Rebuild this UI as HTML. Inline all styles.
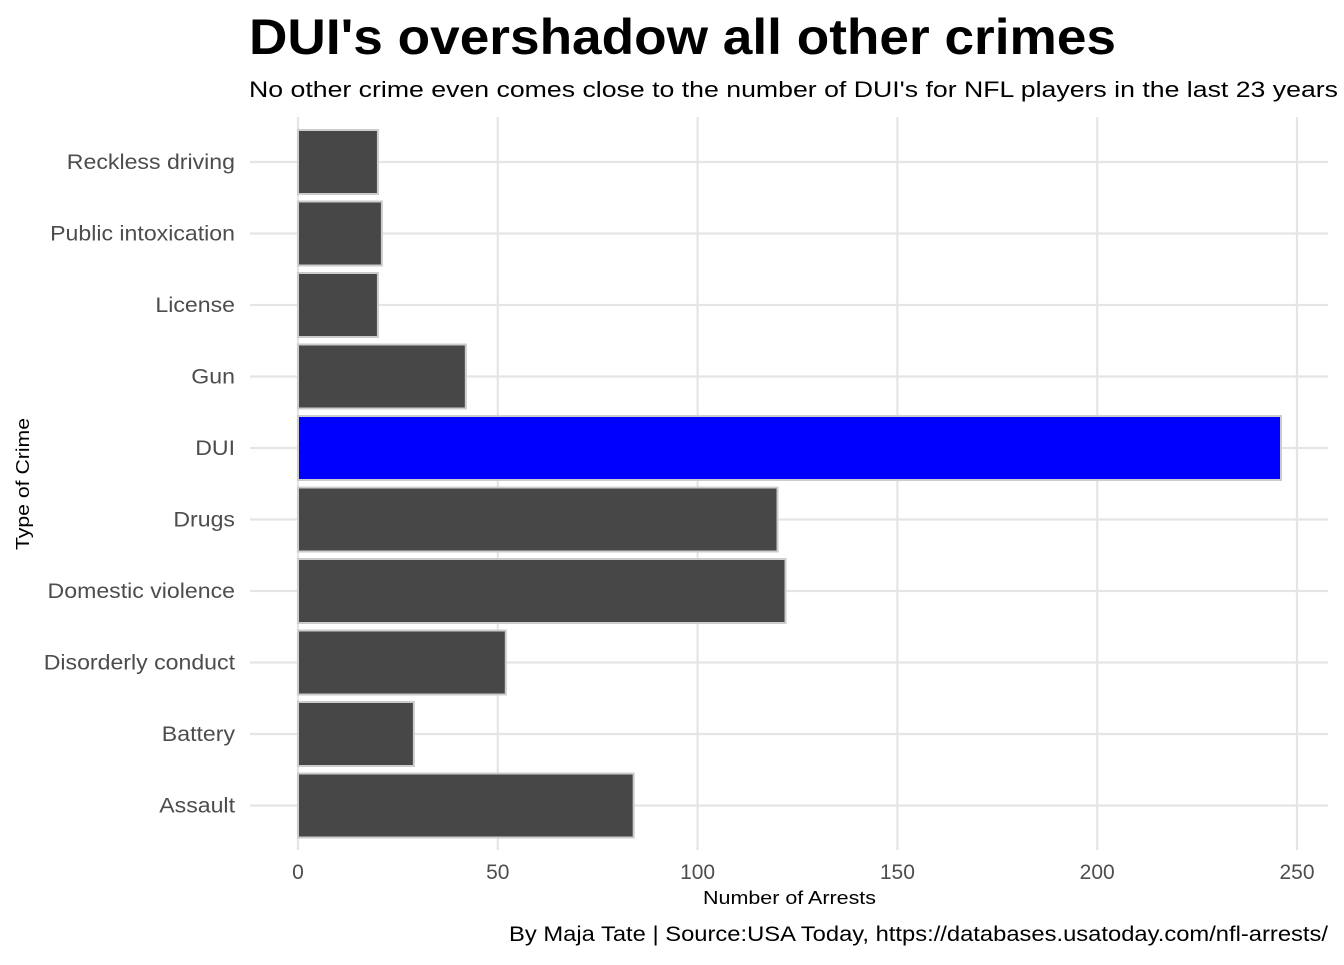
<!DOCTYPE html>
<html><head><meta charset="utf-8"><style>
body{margin:0;background:#fff;font-family:"Liberation Sans",Arial,sans-serif;}
svg text{font-family:"Liberation Sans",Arial,sans-serif;}
</style></head><body>
<svg id="chart" width="1344" height="960" xmlns="http://www.w3.org/2000/svg">
<text x="249" y="54" font-size="50" font-weight="bold" fill="#000" textLength="867" lengthAdjust="spacingAndGlyphs">DUI's overshadow all other crimes</text>
<text x="249" y="97" font-size="22" fill="#000" textLength="1089" lengthAdjust="spacingAndGlyphs">No other crime even comes close to the number of DUI's for NFL players in the last 23 years</text>
<g id="grid"></g><g id="bars"></g><g id="axes"></g>
<text x="703" y="904" font-size="18" fill="#000" textLength="173" lengthAdjust="spacingAndGlyphs">Number of Arrests</text>
<text transform="translate(29,550) rotate(-90)" font-size="18" fill="#000" textLength="132" lengthAdjust="spacingAndGlyphs">Type of Crime</text>
<text x="509" y="941" font-size="21" fill="#000" textLength="819" lengthAdjust="spacingAndGlyphs">By Maja Tate | Source:USA Today, https://databases.usatoday.com/nfl-arrests/</text>
</svg>
<script>
const categories=["Reckless driving","Public intoxication","License","Gun","DUI","Drugs","Domestic violence","Disorderly conduct","Battery","Assault"];
const values=[20,21,20,42,246,120,122,52,29,84];
const xTicks=[0,50,100,150,200,250];
const NS="http://www.w3.org/2000/svg";
const x=v=>298+v*(1297-298)/250;
const y=i=>162+i*71.5;
function mk(tag,attrs,parent){const e=document.createElementNS(NS,tag);for(const k in attrs)e.setAttribute(k,attrs[k]);parent.appendChild(e);return e;}
const grid=document.getElementById('grid'),bars=document.getElementById('bars'),axes=document.getElementById('axes');
xTicks.forEach(t=>{
 const l=mk('line',{x1:x(t),x2:x(t),y1:117,y2:850,stroke:'#e5e5e5','stroke-width':2.2},grid);
 
 
 const tx=mk('text',{x:x(t),y:879,'font-size':21,'text-anchor':'middle',fill:'#4d4d4d'},axes);
 tx.textContent=t;
 
 
});
categories.forEach((c,i)=>{
 const l=mk('line',{x1:250,x2:1328,y1:y(i),y2:y(i),stroke:'#e5e5e5','stroke-width':2.2},grid);
 
 
 const r=mk('rect',{x:x(0),y:y(i)-32,width:x(values[i])-x(0),height:64,fill:c==="DUI"?'#0000ff':'#474747',stroke:'#cccccc','stroke-width':2},bars);
 
 
 const tx=mk('text',{x:235,y:y(i)+7,'font-size':21,'text-anchor':'end',fill:'#4d4d4d'},axes);
 tx.textContent=c;
 
 
 const bb=tx.getComputedTextLength();
 tx.setAttribute('textLength',bb*1.1);
 tx.setAttribute('lengthAdjust','spacingAndGlyphs');
});
</script>
</body></html>
